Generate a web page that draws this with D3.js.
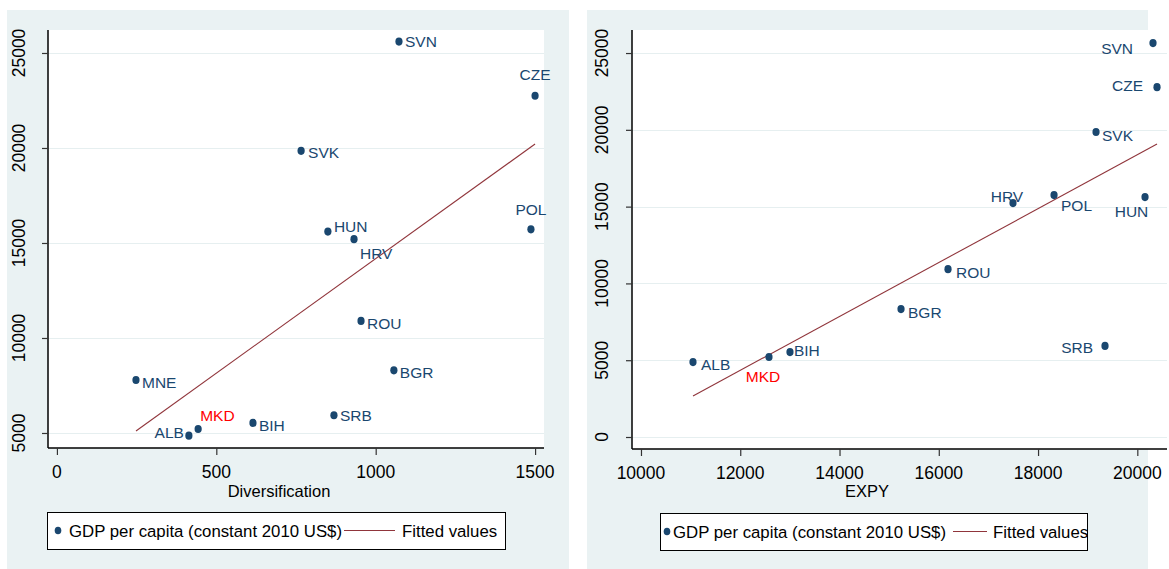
<!DOCTYPE html>
<html>
<head>
<meta charset="utf-8">
<script src="https://cdn.jsdelivr.net/npm/d3@7"></script>
<style>
  html, body { margin: 0; padding: 0; background: #ffffff; }
  svg { display: block; font-family: "Liberation Sans", Arial, Helvetica, sans-serif; }
</style>
</head>
<body>
<svg id="chart" width="1169" height="569"></svg>
<script>
// ---------------- DATA ----------------
const countries = ["SVN","CZE","SVK","HUN","HRV","POL","ROU","BGR","SRB","MNE","MKD","ALB","BIH"];
const gdpPerCapita = [25600, 22750, 19850, 15600, 15200, 15720, 10900, 8300, 5935, 7789, 5210, 4860, 5530];
const diversification = [1073, 1500, 766, 850, 932, 1487, 954, 1057, 869, 248, 443, 414, 615];

const countriesExpy = ["SVN","CZE","SVK","HRV","POL","HUN","ROU","BGR","SRB","ALB","MKD","BIH"];
const gdpExpy = [25650, 22780, 19860, 15230, 15750, 15620, 10930, 8330, 5930, 4880, 5210, 5530];
const expy = [20316, 20397, 19168, 17495, 18322, 20155, 16186, 15239, 19349, 11048, 12579, 13002];

const fitDivX = [248, 1500];
const fitDivY = [5105, 20210];
const fitExpyX = [11048, 20397];
const fitExpyY = [2670, 19076];

const divXTicks = [0, 500, 1000, 1500];
const divYTicks = [5000, 10000, 15000, 20000, 25000];
const expyXTicks = [10000, 12000, 14000, 16000, 18000, 20000];
const expyYTicks = [0, 5000, 10000, 15000, 20000, 25000];

const legendLabels = ["GDP per capita (constant 2010 US$)", "Fitted values"];
const highlight = "MKD";

// label placement (offset from marker centre: dx, dy, anchor)
const divLabelPlace = {
  SVN:[6,0,"start"], CZE:[0,-21,"middle"], SVK:[7,2,"start"], HUN:[6,-5,"start"],
  HRV:[6,14,"start"], POL:[0,-20,"middle"], ROU:[6,3,"start"], BGR:[6,2,"start"],
  SRB:[6,0,"start"], MNE:[6,2,"start"], MKD:[2,-14,"start"], ALB:[-5,-3,"end"], BIH:[6,2,"start"]
};
const expyLabelPlace = {
  SVN:[-20,5,"end"], CZE:[-14,-2,"end"], SVK:[6,3,"start"], HRV:[-6,-6.5,"middle"],
  POL:[7,10,"start"], HUN:[-13.5,14.5,"middle"], ROU:[8,3,"start"], BGR:[7,3,"start"],
  SRB:[-12,1,"end"], ALB:[8,2,"start"], MKD:[-6,19.5,"middle"], BIH:[4,-2,"start"]
};

// ---------------- STYLE ----------------
const BG = "#eaf2f3";
const NAVY = "#1a476f";
const MAROON = "#90353b";
const svg = d3.select("#chart");

function drawPanel(cfg) {
  const g = svg.append("g");
  // panel background
  g.append("rect").attr("x", cfg.panel[0]).attr("y", 10)
    .attr("width", cfg.panel[1] - cfg.panel[0]).attr("height", 569 - 10).attr("fill", BG);
  // plot region
  const pl = cfg.plot;
  g.append("rect").attr("x", pl.l).attr("y", pl.t).attr("width", pl.r - pl.l).attr("height", pl.b - pl.t).attr("fill", "#ffffff");

  const x = d3.scaleLinear().domain(cfg.xDomain).range([pl.l, pl.r]);
  const y = d3.scaleLinear().domain(cfg.yDomain).range([pl.b, pl.t]);

  // gridlines
  g.selectAll(".grid").data(cfg.yTicks).enter().append("line")
    .attr("x1", pl.l).attr("x2", pl.r)
    .attr("y1", d => Math.round(y(d)) + 0.5).attr("y2", d => Math.round(y(d)) + 0.5)
    .attr("stroke", "#e6eff0").attr("stroke-width", 1.2);

  // axes
  const yAxis = d3.axisLeft(y).tickValues(cfg.yTicks).tickSize(6).tickFormat("");
  const xAxis = d3.axisBottom(x).tickValues(cfg.xTicks).tickSize(7).tickFormat("");
  const ya = g.append("g").attr("transform", `translate(${pl.l},0)`).call(yAxis);
  const xa = g.append("g").attr("transform", `translate(0,${pl.b})`).call(xAxis);
  [ya, xa].forEach(a => {
    a.select(".domain").attr("stroke", "#000").attr("stroke-width", 1.5)
      .attr("d", a === ya ? `M0,${pl.b}V${pl.t}` : `M${pl.l},0H${pl.r}`);
    a.selectAll(".tick line").attr("stroke", "#333").attr("stroke-width", 1.2);
  });

  // y tick labels (rotated)
  g.selectAll(".ylab").data(cfg.yTicks).enter().append("text")
    .attr("transform", d => `translate(${pl.l - cfg.yLabOff},${y(d)}) rotate(-90)`)
    .attr("text-anchor", "middle").attr("font-size", "17.5px").attr("fill", "#000")
    .text(d => d);
  // x tick labels
  g.selectAll(".xlab").data(cfg.xTicks).enter().append("text")
    .attr("x", d => x(d)).attr("y", pl.b + 30)
    .attr("text-anchor", "middle").attr("font-size", "17.5px").attr("fill", "#000")
    .text(d => d);
  // axis title
  g.append("text").attr("x", cfg.titleX).attr("y", 497).attr("text-anchor", "middle")
    .attr("font-size", "16.5px").attr("fill", "#000").text(cfg.title);

  // fitted line
  g.append("line")
    .attr("x1", x(cfg.fitX[0])).attr("y1", y(cfg.fitY[0]))
    .attr("x2", x(cfg.fitX[1])).attr("y2", y(cfg.fitY[1]))
    .attr("stroke", MAROON).attr("stroke-width", 1.1);

  // points
  const pts = cfg.names.map((n, i) => ({ n, xv: cfg.xs[i], yv: cfg.ys[i] }));
  g.selectAll(".pt").data(pts).enter().append("ellipse")
    .attr("cx", d => x(d.xv)).attr("cy", d => y(d.yv)).attr("rx", 3.6).attr("ry", 4.1)
    .attr("fill", NAVY);
  g.selectAll(".plab").data(pts).enter().append("text")
    .attr("x", d => x(d.xv) + cfg.place[d.n][0])
    .attr("y", d => y(d.yv) + cfg.place[d.n][1])
    .attr("dy", "0.36em")
    .attr("text-anchor", d => cfg.place[d.n][2])
    .attr("font-size", "15.5px")
    .attr("fill", d => d.n === highlight ? "#ff0000" : NAVY)
    .text(d => d.n);

  // legend
  const L = cfg.legend;
  g.append("rect").attr("x", L.x0 + 0.5).attr("y", L.y0 + 0.5).attr("width", L.x1 - L.x0).attr("height", L.y1 - L.y0)
    .attr("fill", "#fff").attr("stroke", "#000").attr("stroke-width", 1);
  const cy = (L.y0 + L.y1) / 2;
  g.append("ellipse").attr("cx", L.dot).attr("cy", cy).attr("rx", 3.3).attr("ry", 3.8).attr("fill", NAVY);
  g.append("text").attr("x", L.t1).attr("y", cy).attr("dy", "0.36em").attr("font-size", "16.8px").text(legendLabels[0]);
  g.append("line").attr("x1", L.l0).attr("x2", L.l1).attr("y1", cy).attr("y2", cy)
    .attr("stroke", MAROON).attr("stroke-width", 1.1);
  g.append("text").attr("x", L.t2).attr("y", cy).attr("dy", "0.36em").attr("font-size", "16.8px").text(legendLabels[1]);
}

drawPanel({
  panel: [7, 569],
  plot: { l: 48, r: 544, t: 30, b: 448 },
  xDomain: [-28, 1528], yDomain: [4210, 26210],
  xTicks: divXTicks, yTicks: divYTicks, yLabOff: 23,
  title: "Diversification", titleX: 279,
  names: countries, xs: diversification, ys: gdpPerCapita,
  fitX: fitDivX, fitY: fitDivY, place: divLabelPlace,
  legend: { x0: 47, x1: 505, y0: 512, y1: 549, dot: 58, t1: 69, l0: 344, l1: 395, t2: 402 }
});

drawPanel({
  panel: [587, 1148],
  plot: { l: 632, r: 1167, t: 30, b: 449 },
  xDomain: [9819, 20598], yDomain: [-781, 26500],
  xTicks: expyXTicks, yTicks: expyYTicks, yLabOff: 24,
  title: "EXPY", titleX: 867,
  names: countriesExpy, xs: expy, ys: gdpExpy,
  fitX: fitExpyX, fitY: fitExpyY, place: expyLabelPlace,
  legend: { x0: 660, x1: 1087, y0: 513, y1: 550, dot: 667, t1: 673, l0: 953, l1: 987, t2: 993 }
});
</script>
</body>
</html>
